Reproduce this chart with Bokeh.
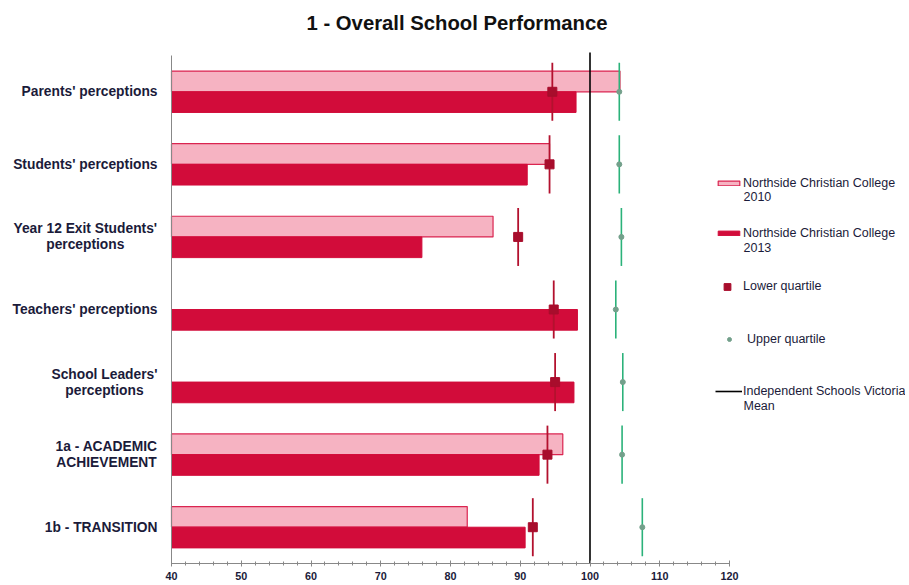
from bokeh.plotting import figure
from bokeh.models import Range1d, Label, Legend, LegendItem, SingleIntervalTicker, ColumnDataSource
from bokeh.embed import file_html
from bokeh.resources import INLINE

# ---- data ----
categories = ["Parents' perceptions", "Students' perceptions",
              "Year 12 Exit Students'\nperceptions", "Teachers' perceptions",
              "School Leaders'\nperceptions", "1a - ACADEMIC\nACHIEVEMENT", "1b - TRANSITION"]
score_2010 = [104.3, 94.2, 86.1, None, None, 96.1, 82.4]
score_2013 = [98.0, 91.0, 75.9, 98.2, 97.7, 92.7, 90.7]
lower_quartile = [94.6, 94.2, 89.7, 94.8, 95.0, 93.9, 91.8]
upper_quartile = [104.2, 104.2, 104.5, 103.7, 104.7, 104.6, 107.5]
mean_value = 100
x_ticks = [40, 50, 60, 70, 80, 90, 100, 110, 120]
title_text = "1 - Overall School Performance"
legend_labels = ["Northside Christian College\n2010", "Northside Christian College\n2013",
                 "Lower quartile", "Upper quartile", "Independent Schools Victoria\nMean"]

n = len(categories)
ypos = [n - 0.5 - i for i in range(n)]
BAR_H = 0.285
FONT = "Liberation Sans"
TXT = "#1b1b3a"
LAB_SIZE = 13.8

W, H = 905, 583
AX_LEFT_PX, AX_RIGHT_PX = 171, 729        # where 40 and 120 sit
PLOT_TOP_PX, PLOT_BOT_PX = 55, 563        # top of category band, axis line
ppu_x = (AX_RIGHT_PX - AX_LEFT_PX) / (x_ticks[-1] - x_ticks[0])
ppu_y = (PLOT_BOT_PX - PLOT_TOP_PX) / n
x0 = x_ticks[0] - AX_LEFT_PX / ppu_x
x1 = x_ticks[0] + (W - AX_LEFT_PX) / ppu_x
y1 = n + PLOT_TOP_PX / ppu_y


def px_x(px):
    return x0 + px / ppu_x


def px_y(py):
    return (PLOT_BOT_PX - py) / ppu_y


# approximate Arial Bold advance widths (per 1000 em) for centring wrapped labels
_BW = {" ": 278, "'": 238, "-": 333, "1": 556, "2": 556, "A": 722, "C": 722, "D": 722,
       "E": 667, "H": 722, "I": 278, "L": 611, "M": 833, "N": 722, "S": 667, "T": 611,
       "V": 667, "Y": 667, "a": 556, "c": 556, "d": 611, "e": 556, "h": 611, "i": 278,
       "l": 278, "n": 611, "o": 611, "p": 611, "r": 389, "s": 556, "t": 333, "u": 611, "x": 556}


def text_w(s, size):
    return sum(_BW.get(ch, 600) for ch in s) / 1000 * size


p = figure(width=W, height=H, output_backend="svg", toolbar_location=None,
           x_range=Range1d(x0, x1), y_range=Range1d(0, y1),
           min_border_left=0, min_border_right=0, min_border_top=0,
           min_border_bottom=H - PLOT_BOT_PX)
p.grid.visible = False
p.outline_line_color = None
p.yaxis.visible = False

# bars
s10 = ColumnDataSource(dict(y=[y + BAR_H / 2 for y, v in zip(ypos, score_2010) if v is not None],
                            right=[v for v in score_2010 if v is not None]))
r10 = p.hbar(y="y", left=x_ticks[0], right="right", height=BAR_H, source=s10,
             fill_color="#f6b3c2", line_color="#da2550", line_width=1.2)
s13 = ColumnDataSource(dict(y=[y - BAR_H / 2 for y in ypos], right=score_2013))
r13 = p.hbar(y="y", left=x_ticks[0], right="right", height=BAR_H, source=s13,
             fill_color="#d20c3a", line_color="#d20c3a", line_width=1)

# left axis line
p.segment(x0=[x_ticks[0]], x1=[x_ticks[0]], y0=[0], y1=[n], line_color="#888888", line_width=1)

# mean line
rmean = p.line(x=[mean_value, mean_value], y=[0, n + 0.04], line_color="black", line_width=1.6)

# quartile whiskers
p.segment(x0=lower_quartile, x1=lower_quartile, y0=[y - 0.4 for y in ypos], y1=[y + 0.4 for y in ypos],
          line_color="#b3112e", line_width=1.8)
rlq = p.scatter(x=lower_quartile, y=ypos, marker="square", size=9,
                fill_color="#a80d2c", line_color="#a80d2c")
p.segment(x0=upper_quartile, x1=upper_quartile, y0=[y - 0.4 for y in ypos], y1=[y + 0.4 for y in ypos],
          line_color="#2bb27a", line_width=1.6)
ruq = p.scatter(x=upper_quartile, y=ypos, marker="circle", size=5,
                fill_color="#73a08b", line_color="#73a08b")

# x axis
xa = p.xaxis[0]
xa.bounds = (x_ticks[0], x_ticks[-1])
xa.ticker = SingleIntervalTicker(interval=10, num_minor_ticks=5)
xa.axis_line_color = "#888888"
xa.major_tick_line_color = "#888888"
xa.minor_tick_line_color = "#888888"
xa.major_tick_in = 3
xa.major_tick_out = 3
xa.minor_tick_in = 2
xa.minor_tick_out = 2
xa.major_label_standoff = 5
xa.major_label_text_font = FONT
xa.major_label_text_font_style = "bold"
xa.major_label_text_font_size = "10.8px"
xa.major_label_text_color = TXT

# category labels (wrapped lines centred within a right-aligned block)
LINE_PX = 16
for c, y in zip(categories, ypos):
    lines = c.split("\n")
    if len(lines) == 1:
        p.add_layout(Label(x=x_ticks[0], y=y, x_offset=-14, text=c, text_align="right",
                           text_baseline="middle", text_font=FONT, text_font_style="bold",
                           text_font_size=f"{LAB_SIZE}px", text_color=TXT))
    else:
        bw = max(text_w(l, LAB_SIZE) for l in lines)
        for k, line in enumerate(lines):
            dy = ((len(lines) - 1) / 2 - k) * LINE_PX
            p.add_layout(Label(x=x_ticks[0], y=y + dy / ppu_y, x_offset=-14 - bw / 2, text=line,
                               text_align="center", text_baseline="middle", text_font=FONT,
                               text_font_style="bold", text_font_size=f"{LAB_SIZE}px",
                               text_color=TXT))

# title
p.add_layout(Label(x=px_x(456.5), y=px_y(22), text=title_text, text_align="center",
                   text_baseline="middle", text_font=FONT, text_font_style="bold",
                   text_font_size="20.3px", text_color="#111111"))

# legend: one small legend per entry so each sits where the reference has it
LEG_X = 715
leg_rend = [r10, r13, rlq, ruq, rmean]
leg_center_px = [183, 233, 286, 339, 391]
leg_glyph = [(27, 6), (27, 6), (24, 17), (28, 10), (27, 6)]
leg_standoff = [1, 1, 4, 4, 1]
second_line_px = [196, 247, None, None, 405]
for lab, r, cy, (gw, gh), so, sy in zip(legend_labels, leg_rend, leg_center_px, leg_glyph,
                                        leg_standoff, second_line_px):
    parts = lab.split("\n")
    ih = max(14, gh)
    lg = Legend(items=[LegendItem(label=parts[0], renderers=[r])],
                location=(LEG_X, PLOT_BOT_PX - (cy + ih / 2)), orientation="vertical",
                glyph_width=gw, glyph_height=gh, label_standoff=so, label_height=14,
                padding=0, margin=0, border_line_color=None, background_fill_alpha=0,
                label_text_font=FONT, label_text_font_size="12.5px", label_text_color=TXT)
    p.add_layout(lg, "center")
    if len(parts) > 1:
        p.add_layout(Label(x=px_x(LEG_X + gw + so), y=px_y(sy), text=parts[1], text_align="left",
                           text_baseline="middle", text_font=FONT, text_font_size="12.5px",
                           text_color=TXT))

open("out.html", "w").write(file_html(p, INLINE))
